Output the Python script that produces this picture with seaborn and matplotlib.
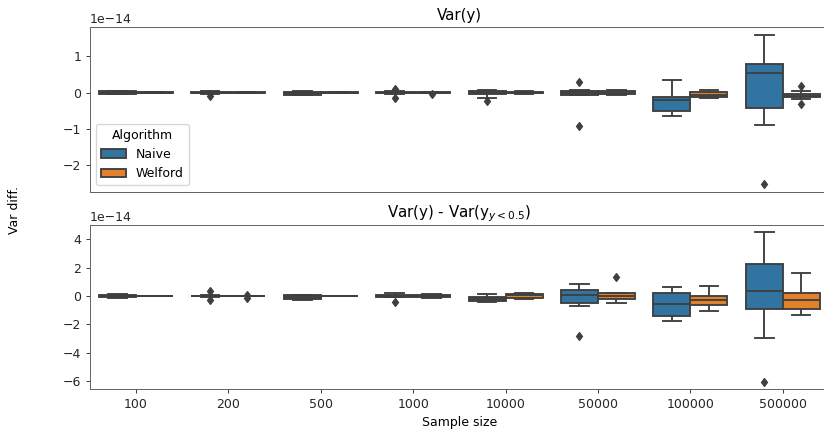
import matplotlib
matplotlib.use("Agg")
import matplotlib.pyplot as plt
import pandas as pd
import seaborn as sns

SCALE = 1e-14

sample_sizes = ["100", "200", "500", "1000", "10000", "50000", "100000", "500000"]
algorithms = ["Naive", "Welford"]

# Var(y) error of each algorithm, nine runs per sample size (units of 1e-14)
var_naive = [
    [-0.05, -0.04, -0.03, -0.02, 0.0, 0.01, 0.03, 0.04, 0.05],
    [-0.10, -0.03, -0.02, -0.01, 0.0, 0.01, 0.02, 0.03, 0.04],
    [-0.08, -0.07, -0.06, -0.04, -0.02, 0.0, 0.02, 0.03, 0.04],
    [-0.15, -0.04, -0.02, -0.01, 0.0, 0.01, 0.02, 0.04, 0.10],
    [-0.23, -0.15, -0.05, -0.02, 0.0, 0.02, 0.05, 0.07, 0.08],
    [-0.94, -0.08, -0.06, -0.03, -0.01, 0.02, 0.05, 0.07, 0.30],
    [-0.65, -0.58, -0.52, -0.35, -0.22, -0.18, -0.13, 0.05, 0.36],
    [-2.54, -0.89, -0.44, 0.10, 0.55, 0.65, 0.80, 1.20, 1.61],
]
var_welford = [
    [-0.010, -0.005, -0.004, -0.002, 0.0, 0.002, 0.004, 0.005, 0.010],
    [-0.010, -0.005, -0.004, -0.002, 0.0, 0.002, 0.004, 0.005, 0.010],
    [-0.010, -0.005, -0.004, -0.002, 0.0, 0.002, 0.004, 0.005, 0.010],
    [-0.040, -0.003, -0.002, -0.001, 0.0, 0.001, 0.002, 0.003, 0.004],
    [-0.04, -0.03, -0.02, -0.01, 0.0, 0.01, 0.02, 0.03, 0.04],
    [-0.07, -0.06, -0.05, -0.02, 0.0, 0.02, 0.04, 0.06, 0.07],
    [-0.15, -0.14, -0.13, -0.09, -0.06, -0.01, 0.02, 0.05, 0.08],
    [-0.31, -0.18, -0.12, -0.10, -0.09, -0.07, -0.05, 0.05, 0.18],
]

# Var(y) - Var(y_{y<0.5}) error of each algorithm (units of 1e-14)
sub_naive = [
    [-0.14, -0.12, -0.10, -0.05, 0.0, 0.04, 0.08, 0.10, 0.12],
    [-0.30, -0.04, -0.03, -0.01, 0.0, 0.01, 0.03, 0.04, 0.35],
    [-0.25, -0.23, -0.20, -0.15, -0.10, -0.03, 0.05, 0.07, 0.08],
    [-0.40, -0.10, -0.05, 0.0, 0.03, 0.06, 0.10, 0.15, 0.20],
    [-0.42, -0.38, -0.35, -0.25, -0.19, -0.12, -0.05, 0.05, 0.14],
    [-2.79, -0.68, -0.47, -0.20, 0.07, 0.25, 0.42, 0.60, 0.84],
    [-1.78, -1.60, -1.38, -0.90, -0.54, -0.10, 0.23, 0.40, 0.61],
    [-6.04, -2.97, -0.94, -0.30, 0.35, 1.20, 2.29, 3.50, 4.52],
]
sub_welford = [
    [-0.02, -0.015, -0.01, -0.005, 0.0, 0.005, 0.01, 0.015, 0.02],
    [-0.12, -0.02, -0.015, -0.01, 0.0, 0.01, 0.015, 0.02, 0.10],
    [-0.03, -0.02, -0.015, -0.01, 0.0, 0.01, 0.015, 0.02, 0.03],
    [-0.12, -0.10, -0.08, -0.04, 0.0, 0.04, 0.10, 0.12, 0.14],
    [-0.20, -0.15, -0.12, -0.02, 0.05, 0.10, 0.15, 0.18, 0.20],
    [-0.51, -0.30, -0.21, -0.10, -0.02, 0.10, 0.23, 0.23, 1.31],
    [-1.05, -0.80, -0.63, -0.45, -0.30, -0.15, -0.02, 0.30, 0.70],
    [-1.33, -1.10, -0.94, -0.60, -0.28, 0.0, 0.23, 0.90, 1.66],
]


def long_frame(naive, welford):
    rows = []
    for algo, groups in zip(algorithms, (naive, welford)):
        for size, values in zip(sample_sizes, groups):
            for v in values:
                rows.append({"Sample size": size, "Algorithm": algo, "diff": v * SCALE})
    return pd.DataFrame(rows)


df_var = long_frame(var_naive, var_welford)
df_sub = long_frame(sub_naive, sub_welford)

DPI = 90
fig, (ax_top, ax_bot) = plt.subplots(2, 1, figsize=(824 / DPI, 429 / DPI), dpi=DPI, sharex=True)
fig.subplots_adjust(left=0.109, right=1.006, top=0.937, bottom=0.093, hspace=0.2)

line_gray = "#3f3f3f"
box_kw = dict(
    x="Sample size", y="diff", hue="Algorithm",
    order=sample_sizes, hue_order=algorithms,
    palette={"Naive": "#1f77b4", "Welford": "#ff7f0e"}, saturation=0.75,
    linewidth=1.5, linecolor=line_gray, fliersize=5,
    flierprops=dict(marker="d", markerfacecolor=line_gray, markeredgecolor=line_gray),
)

sns.boxplot(data=df_var, ax=ax_top, **box_kw)
sns.boxplot(data=df_sub, ax=ax_bot, legend=False, **box_kw)

sns.move_legend(ax_top, "lower left", title="Algorithm")

ax_top.set_title("Var(y)")
ax_bot.set_title(r"Var(y) - Var(y$_{y<0.5}$)")
ax_top.set_xlabel("")
ax_top.set_ylabel("")
ax_bot.set_ylabel("")
ax_bot.set_xlabel("Sample size")
ax_top.tick_params(axis="x", bottom=False, labelbottom=False)

for ax in (ax_top, ax_bot):
    for spine in ax.spines.values():
        spine.set_color("0.4")
    ax.tick_params(colors="0.25", labelcolor="0.15")

fig.text(15 / 824, 0.51, "Var diff.", rotation=90, ha="center", va="center")

fig.savefig("out.png", dpi=DPI)
